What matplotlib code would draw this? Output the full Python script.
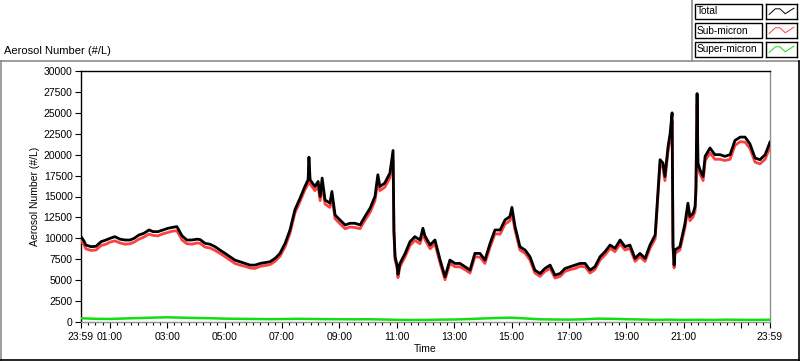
import numpy as np
import matplotlib
matplotlib.use("Agg")
import matplotlib.pyplot as plt
from matplotlib.lines import Line2D
from matplotlib.patches import Rectangle

plt.rcParams['font.family'] = ['Liberation Sans', 'DejaVu Sans']
plt.rcParams['font.size'] = 7.5

# readings, hours since 23:59 of the previous day
hours = [0.00, 0.10, 0.17, 0.35, 0.52, 0.70, 0.87, 1.01, 1.18, 1.36, 1.53, 1.71, 1.85, 2.02, 2.19, 2.37,
         2.51, 2.68, 2.86, 3.03, 3.17, 3.34, 3.52, 3.69, 3.87, 4.04, 4.15, 4.32, 4.49, 4.67, 4.84, 5.02,
         5.19, 5.36, 5.54, 5.71, 5.89, 6.06, 6.24, 6.41, 6.58, 6.76, 6.93, 7.11, 7.28, 7.45, 7.63, 7.80,
         7.91, 7.94, 7.98, 8.15, 8.26, 8.33, 8.40, 8.50, 8.67, 8.74, 8.85, 9.02, 9.20, 9.37, 9.54, 9.72,
         9.89, 10.07, 10.24, 10.34, 10.41, 10.58, 10.76, 10.87, 10.90, 10.94, 11.01, 11.04, 11.11, 11.29,
         11.46, 11.63, 11.81, 11.91, 11.98, 12.16, 12.33, 12.51, 12.68, 12.85, 13.03, 13.20, 13.38, 13.55,
         13.72, 13.90, 14.07, 14.25, 14.42, 14.60, 14.77, 14.94, 15.01, 15.12, 15.29, 15.47, 15.64, 15.81,
         15.99, 16.16, 16.34, 16.51, 16.69, 16.86, 17.03, 17.21, 17.38, 17.56, 17.73, 17.90, 18.08, 18.25,
         18.43, 18.60, 18.78, 18.95, 19.12, 19.30, 19.47, 19.65, 19.82, 20.00, 20.10, 20.17, 20.27, 20.34,
         20.45, 20.52, 20.59, 20.62, 20.66, 20.69, 20.86, 21.04, 21.14, 21.21, 21.32, 21.39, 21.42, 21.46,
         21.49, 21.56, 21.67, 21.74, 21.91, 22.08, 22.26, 22.43, 22.61, 22.78, 22.96, 23.13, 23.30, 23.48,
         23.65, 23.83, 24.00]

total = [10200, 9700, 9200, 9000, 9050, 9600, 9800, 10000, 10200, 9900, 9800, 9800, 10000, 10400, 10600, 11000,
         10800, 10800, 11000, 11200, 11300, 11400, 10300, 9800, 9800, 9900, 9850, 9400, 9300, 9000, 8600, 8200,
         7800, 7400, 7200, 7000, 6800, 6800, 7000, 7100, 7200, 7600, 8200, 9400, 11000, 13400, 14800, 16200,
         17000, 19700, 17000, 16200, 16800, 15000, 17200, 14600, 14200, 15600, 12800, 12200, 11600, 11800, 11800, 11600,
         12600, 13600, 15000, 17600, 16200, 16600, 17800, 20500, 11000, 7800, 6800, 5700, 7000, 8200,
         9600, 10200, 9800, 11200, 10300, 9200, 9800, 7400, 5400, 7400, 7000, 7000, 6600, 6200,
         8200, 8200, 7400, 9400, 11000, 11000, 12200, 12600, 13700, 11400, 9000, 8600, 7800, 6200,
         5800, 6400, 6800, 5600, 5800, 6400, 6600, 6800, 7000, 7000, 6200, 6600, 7800, 8400,
         9200, 8800, 9800, 9000, 9200, 7600, 8200, 7600, 9200, 10400, 15800, 19400, 19000, 17400,
         21000, 22500, 25000, 9400, 6800, 8600, 9000, 11800, 14200, 12600, 13000, 13800, 16000, 27300,
         19000, 18200, 17400, 19800, 20800, 20000, 20000, 19800, 20000, 21700, 22100, 22100, 21300, 19600,
         19400, 20000, 21500]

sub_micron = [9700, 9250, 8750, 8550, 8600, 9150, 9300, 9550, 9700, 9450, 9300, 9350, 9550, 9900, 10150, 10500,
              10350, 10300, 10550, 10700, 10850, 10900, 9800, 9350, 9300, 9450, 9400, 8950, 8850, 8550, 8200, 7800,
              7400, 7000, 6800, 6650, 6450, 6400, 6650, 6750, 6850, 7250, 7850, 9000, 10600, 13000, 14400, 15800,
              16500, 18700, 16500, 15700, 16200, 14500, 16400, 14100, 13700, 14900, 12350, 11750, 11150, 11350, 11300, 11150,
              12150, 13100, 14500, 16800, 15700, 16100, 17200, 19400, 10600, 7400, 6400, 5300, 6600, 7800,
              9150, 9750, 9350, 10600, 9850, 8750, 9350, 7000, 5050, 7000, 6600, 6600, 6250, 5850,
              7800, 7750, 7000, 8950, 10550, 10500, 11700, 12100, 13000, 10950, 8600, 8200, 7400, 5850,
              5450, 6050, 6400, 5250, 5450, 6050, 6250, 6400, 6650, 6600, 5850, 6250, 7400, 8000,
              8800, 8400, 9350, 8600, 8800, 7250, 7800, 7250, 8800, 9950, 15200, 18800, 18450, 16900,
              20400, 21800, 24000, 9000, 6450, 8200, 8600, 11300, 13600, 12100, 12550, 13250, 15400, 26000,
              18450, 17700, 16900, 19250, 20200, 19450, 19450, 19300, 19450, 21100, 21550, 21500, 20750, 19100,
              18900, 19450, 20900]

super_hours = [0, 0.5, 1, 1.5, 2, 2.5, 3, 3.5, 4, 4.5, 5, 5.5, 6, 6.5, 7, 7.5, 8, 8.5, 9, 9.5,
               10, 10.5, 11, 11.5, 12, 12.5, 13, 13.5, 14, 14.5, 15, 15.5, 16, 16.5, 17, 17.5, 18, 18.5,
               19, 19.5, 20, 20.5, 21, 21.5, 22, 22.5, 23, 23.5, 24]
super_micron = [450, 380, 360, 420, 470, 520, 560, 520, 480, 450, 400, 380, 360, 340, 350, 380, 360, 340, 330, 320,
                330, 300, 260, 240, 250, 280, 300, 350, 420, 480, 520, 420, 320, 300, 280, 320, 400, 380,
                330, 300, 260, 280, 250, 270, 250, 280, 260, 250, 270]

tick_hours = [0, 1, 3, 5, 7, 9, 11, 13, 15, 17, 19, 21, 23, 24]
tick_labels = ["23:59", "01:00", "03:00", "05:00", "07:00", "09:00", "11:00", "13:00",
               "15:00", "17:00", "19:00", "21:00", "", "23:59"]
y_ticks = np.arange(0, 30001, 2500)

legend_names = ["Total", "Sub-micron", "Super-micron"]
legend_colors = ["black", "#ff4040", "#10e010"]

W, H = 800.0, 361.0
fig = plt.figure(figsize=(8, 3.61), dpi=100)
fig.patch.set_facecolor("white")

def fx(x):
    return x / W

def fy(y):
    return 1 - y / H

ax = fig.add_axes([fx(81), fy(322), 689 / W, 251 / H])
ax.plot(super_hours, super_micron, color=legend_colors[2], lw=1.8, zorder=3)
ax.plot(hours, sub_micron, color=legend_colors[1], lw=2.0, zorder=4)
ax.plot(hours, total, color=legend_colors[0], lw=2.0, zorder=5)

ax.set_xlim(0, 24)
ax.set_ylim(0, 30000)
ax.set_yticks(y_ticks)
ax.set_yticklabels([str(v) for v in y_ticks])
ax.set_xticks(tick_hours)
ax.set_xticklabels(tick_labels)
minor = [q for q in np.arange(0.25, 24, 0.25) if not (abs(q - round(q)) < 1e-6 and int(round(q)) % 2 == 1)]
ax.set_xticks(minor, minor=True)
ax.tick_params(axis="both", direction="out", length=4, width=0.8, color="black", pad=2)
ax.tick_params(axis="x", which="minor", length=2, width=0.8)
ax.tick_params(axis="x", pad=3)

for side in ["top", "left"]:
    ax.spines[side].set_color("black")
    ax.spines[side].set_linewidth(1.0)
for side in ["bottom", "right"]:
    ax.spines[side].set_color("#909090")
    ax.spines[side].set_linewidth(1.0)

ax.set_ylabel("Aerosol Number (#/L)", labelpad=3)
ax.set_xlabel("Time", labelpad=2)

fig.text(fx(4), fy(51), "Aerosol Number (#/L)", ha="left", va="center", fontsize=8)

# panel borders
fig.add_artist(Line2D([0, 1], [fy(61), fy(61)], color="#8c8c8c", lw=1.2, transform=fig.transFigure))
fig.add_artist(Line2D([fx(692), fx(692)], [fy(61), 1], color="#8c8c8c", lw=1.2, transform=fig.transFigure))
fig.add_artist(Line2D([fx(0.5), fx(0.5)], [0, fy(61)], color="#8c8c8c", lw=1.2, transform=fig.transFigure))
fig.add_artist(Line2D([0, 1], [fy(359.5), fy(359.5)], color="black", lw=1.2, transform=fig.transFigure))
fig.add_artist(Line2D([fx(798.5), fx(798.5)], [0, fy(61)], color="black", lw=1.2, transform=fig.transFigure))

# legend rows
for i, name in enumerate(legend_names):
    top = 4 + 19 * i
    fig.add_artist(Rectangle((fx(695), fy(top + 15)), 67 / W, 15 / H, fill=True, fc="white",
                             ec="black", lw=1.0, transform=fig.transFigure))
    fig.text(fx(696.5), fy(top + 7.5), name, ha="left", va="center", fontsize=7.3)
    sample = fig.add_axes([fx(766), fy(top + 15), 31 / W, 15 / H])
    sample.plot([0.1, 0.3, 0.45, 0.62, 0.9], [0.3, 0.68, 0.68, 0.35, 0.72], color=legend_colors[i], lw=0.7)
    sample.set_xlim(0, 1)
    sample.set_ylim(0, 1)
    sample.set_xticks([])
    sample.set_yticks([])
    for s in sample.spines.values():
        s.set_color("black")
        s.set_linewidth(1.0)

fig.savefig("out.png", dpi=100)
